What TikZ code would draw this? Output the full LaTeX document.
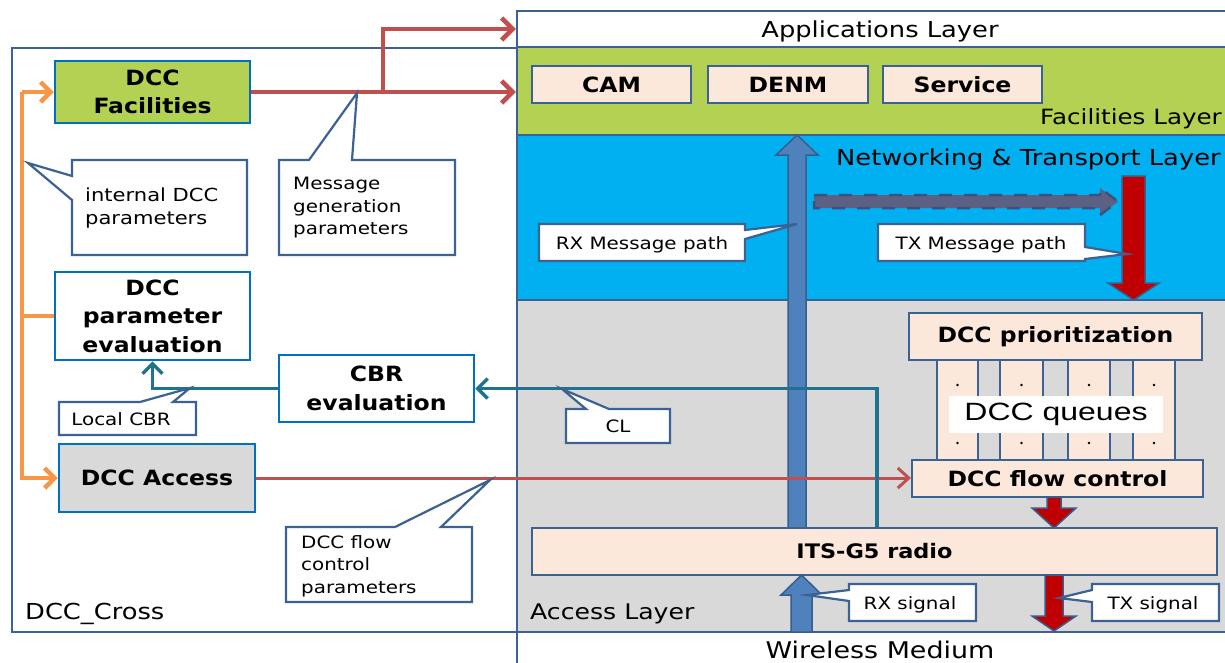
\documentclass[tikz,border=0pt]{standalone}
\usepackage{fontspec}
\setmainfont{DejaVu Sans}[FakeStretch=1.17]
\newfontfamily\bfam{DejaVu Sans}[FakeStretch=1.12]
\newfontfamily\qfam{Liberation Sans}[FakeStretch=1.28]
\usetikzlibrary{arrows.meta,calc}
\definecolor{frameblue}{RGB}{59,98,147}
\definecolor{boxblue}{RGB}{0,112,192}
\definecolor{fgreen}{RGB}{179,209,82}
\definecolor{nblue}{RGB}{0,176,240}
\definecolor{agray}{RGB}{217,217,217}
\definecolor{peach}{RGB}{252,232,218}
\definecolor{redc}{RGB}{192,80,77}
\definecolor{darkred}{RGB}{192,0,0}
\definecolor{arrblue}{RGB}{79,129,189}
\definecolor{arrborder}{RGB}{56,93,138}
\definecolor{tealc}{RGB}{31,115,145}
\definecolor{orangec}{RGB}{247,150,70}
\definecolor{dashc}{RGB}{92,96,130}
\definecolor{dashb}{RGB}{58,82,125}
\tikzset{
  layer/.style={draw=frameblue, line width=2.4pt, inner sep=0pt, minimum width=723pt},
  lbox/.style={draw=boxblue, line width=2.5pt, inner sep=0pt, align=center,
    font=\bfam\bfseries\fontsize{21}{28.5}\selectfont},
  pbox/.style={draw=frameblue, fill=peach, line width=2pt, inner sep=0pt,
    font=\bfam\bfseries\fontsize{21}{25}\selectfont},
  callout/.style={draw=frameblue, fill=white, line width=2.2pt, line join=miter},
  ctext/.style={inner sep=0pt, align=left, font=\fontsize{17}{22.5}\selectfont},
  ltext/.style={inner sep=0pt, font=\fontsize{22}{26}\selectfont},
  redarr/.style={draw=redc, line width=4.5pt, -{Straight Barb[length=11pt,width=22pt]}},
  redthin/.style={draw=redc, line width=3pt, -{Straight Barb[length=11pt,width=20pt]}},
  orline/.style={draw=orangec, line width=4.5pt},
  orarr/.style={orline, -{Straight Barb[length=10pt,width=20pt]}},
  tealarr/.style={draw=tealc, line width=3.5pt, -{Straight Barb[length=10pt,width=20pt]}},
  barrow/.style={fill=arrblue, draw=arrborder, line width=1.5pt, line join=miter},
  rarrow/.style={fill=darkred, draw=arrborder, line width=1.5pt, line join=miter},
  darrow/.style={fill=dashc, draw=dashb, line width=2.5pt, dash pattern=on 13pt off 12pt, line join=miter},
  queue/.style={fill=peach, draw=frameblue, line width=2pt},
}
\begin{document}
\begin{tikzpicture}[x=1pt,y=-1pt]
\useasboundingbox (0,0) rectangle (1225,662);
\fill[white] (0,0) rectangle (1225,662);
% layers
\node[layer, fill=white, minimum height=36pt] (app) at (878.5,29) {};
\node[layer, fill=fgreen, minimum height=88pt] (fac) at (878.5,91) {};
\node[layer, fill=nblue, minimum height=165pt] (net) at (878.5,217.5) {};
\node[layer, fill=agray, minimum height=332pt] (acc) at (878.5,466) {};
\node[layer, fill=white, minimum height=60pt] (wm) at (878.5,662) {};
\node[draw=frameblue, line width=2.4pt, inner sep=0pt, minimum width=505pt, minimum height=584pt] (cross) at (264.5,340) {};
% layer labels
\node[ltext] (tapp) at (880,31) {Applications Layer};
\node[ltext, anchor=west, font=\fontsize{21}{25}\selectfont] (tfac) at (1040,119) {Facilities Layer};
\node[ltext, anchor=west] (tnet) at (836,159) {Networking \& Transport Layer};
\node[ltext, anchor=west, font=\fontsize{21.5}{26}\selectfont] (tacc) at (530,614) {Access Layer};
\node[ltext, anchor=west] (tcross) at (25,614) {DCC\_Cross};
\node[ltext, font=\fontsize{23}{27}\selectfont] (twm) at (880,650) {Wireless Medium};
% left boxes
\node[lbox, fill=fgreen, minimum width=195pt, minimum height=62pt] (dccfac) at (152.5,92) {DCC\\Facilities};
\node[lbox, fill=white, minimum width=195pt, minimum height=88pt] (dccpar) at (152.5,316) {DCC\\parameter\\evaluation};
\node[lbox, fill=white, minimum width=195pt, minimum height=67pt] (cbr) at (376.5,388.5) {CBR\\evaluation};
\node[lbox, fill=agray, minimum width=196pt, minimum height=68pt] (dccacc) at (157,478) {DCC Access};
% facilities boxes
\node[pbox, minimum width=159pt, minimum height=37pt] (cam) at (611.5,84.5) {CAM};
\node[pbox, minimum width=160pt, minimum height=37pt] (denm) at (788,84.5) {DENM};
\node[pbox, minimum width=159pt, minimum height=37pt] (serv) at (962.5,84.5) {Service};
% RX message path block arrow
\draw[barrow] (788,540) -- (788,155) -- (776,155) -- (797,135) -- (818,155) -- (806,155) -- (806,540) -- cycle;
% dashed forwarding arrow
\draw[darrow] (814,195) -- (1100,195) -- (1100,188) -- (1118,201.5) -- (1100,215) -- (1100,208) -- (814,208) -- cycle;
% TX message path block arrow
\draw[rarrow] (1122,176) -- (1122,283) -- (1108,283) -- (1133.5,300) -- (1159,283) -- (1145,283) -- (1145,176) -- cycle;
% queues
\foreach \a/\b in {937/978,1000/1043,1068/1110,1133/1175}{
  \draw[queue] (\a,355) rectangle (\b,465);
  \fill (\a/2+\b/2,385) circle (1.3pt);
  \fill (\a/2+\b/2,443) circle (1.3pt);
}
\node[pbox, minimum width=293pt, minimum height=47pt] (prio) at (1055.5,336.5) {DCC prioritization};
\node[pbox, minimum width=291pt, minimum height=37pt] (flow) at (1057.5,478.5) {DCC flow control};
\node[fill=white, inner sep=0pt, minimum width=214pt, minimum height=37pt, font=\qfam\fontsize{25}{30}\selectfont] (qlab) at (1056,414.5) {DCC queues};
% flow -> radio
\draw[rarrow] (1047,497) -- (1047,508) -- (1032,508) -- (1054,528) -- (1076,508) -- (1061,508) -- (1061,497) -- cycle;
% radio
\node[pbox, font=\bfam\bfseries\fontsize{20}{24}\selectfont, minimum width=685pt, minimum height=47pt] (its) at (874.5,551.5) {ITS-G5 radio};
% RX / TX signals
\draw[barrow] (791,632) -- (791,595) -- (781,595) -- (801.5,575) -- (822,595) -- (812,595) -- (812,632) -- cycle;
\draw[rarrow] (1045,575) -- (1045,616) -- (1032,616) -- (1054,631) -- (1076,616) -- (1063,616) -- (1063,575) -- cycle;
% red connectors
\coordinate (br) at (383,92);
\draw[redarr] (dccfac.east) -- (fac.west |- dccfac.east);
\draw[redarr] (br) |- (app.west);
\draw[redthin] (dccacc.east) -- (flow.west |- dccacc.east);
% orange connectors
\coordinate (otop) at (22,92);
\draw[orarr] (otop) -- (dccfac.west);
\draw[orarr] (otop) |- (dccacc.west);
\draw[orline] (otop |- dccpar.west) -- (dccpar.west);
% teal connectors
\coordinate (tx) at (877,0);
\draw[tealarr] (its.north -| tx) |- (cbr.east);
\draw[tealarr] (cbr.west) -| (dccpar.south);
% callouts
\draw[callout] (72,160) -- (247,160) -- (247,255) -- (72,255) -- (72,200) -- (28,163) -- (72,176) -- cycle;
\node[ctext, anchor=west, font=\fontsize{18}{22.5}\selectfont] (cint) at (85,208) {internal DCC\\parameters};
\draw[callout] (279,160) -- (309,160) -- (357,93) -- (352,160) -- (455,160) -- (455,255) -- (279,255) -- cycle;
\node[ctext, anchor=west] (cmsg) at (293,208) {Message\\generation\\parameters};
\draw[callout] (59,402) -- (140,402) -- (190,388) -- (173,402) -- (196,402) -- (196,435) -- (59,435) -- cycle;
\node[ctext] (clocal) at (121,419) {Local CBR};
\draw[callout] (286,527) -- (395,527) -- (490,480) -- (441,527) -- (472,527) -- (472,602) -- (286,602) -- cycle;
\node[ctext, anchor=west] (cflow) at (301,566) {DCC flow\\control\\parameters};
\draw[callout] (566,409) -- (586,409) -- (562,389) -- (609,409) -- (670,409) -- (670,443) -- (566,443) -- cycle;
\node[ctext] (ccl) at (618,426) {CL};
\draw[callout] (539,224) -- (745,224) -- (745,230) -- (797,224) -- (745,239) -- (745,261) -- (539,261) -- cycle;
\node[ctext] (crx) at (642,245) {RX Message path};
\draw[callout] (878,224) -- (1085,224) -- (1085,247) -- (1127,254) -- (1085,259) -- (1085,261) -- (878,261) -- cycle;
\node[ctext] (ctx) at (981,245) {TX Message path};
\draw[callout] (849,584) -- (976,584) -- (976,621) -- (849,621) -- (849,601) -- (807,595) -- (849,590) -- cycle;
\node[ctext] (crxs) at (910,605) {RX signal};
\draw[callout] (1092,584) -- (1219,584) -- (1219,621) -- (1092,621) -- (1092,602) -- (1059,598) -- (1092,590) -- cycle;
\node[ctext] (ctxs) at (1153,605) {TX signal};
\end{tikzpicture}
\end{document}
